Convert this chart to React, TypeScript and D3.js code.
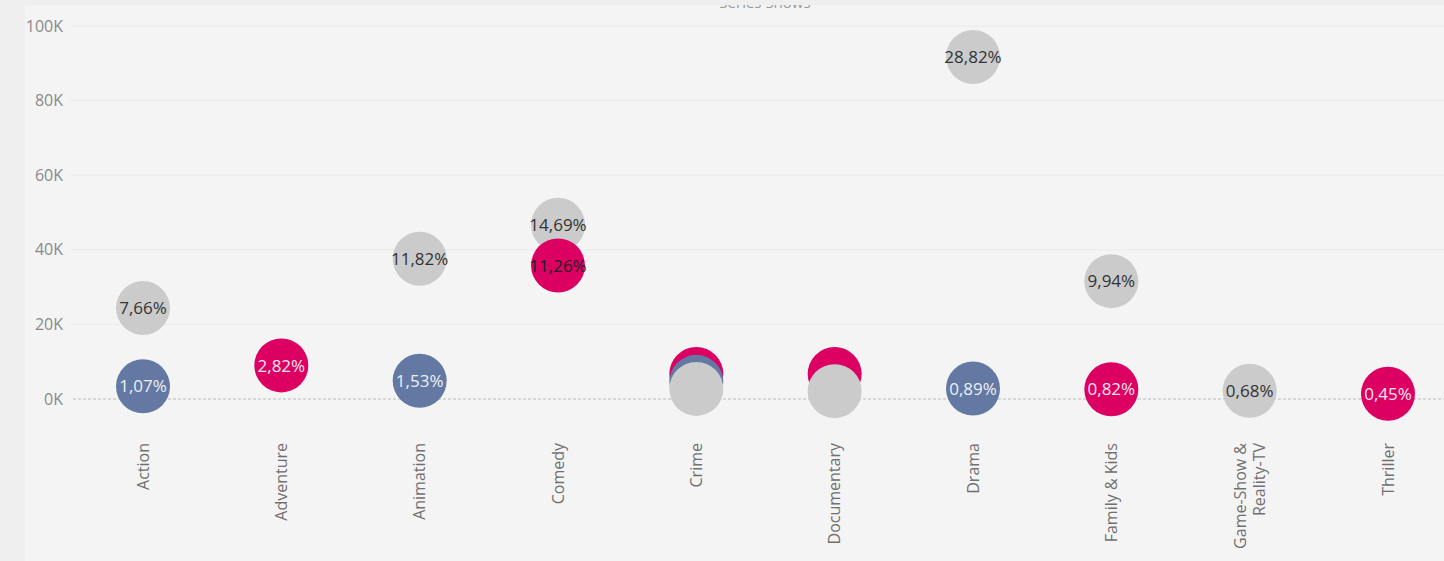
import React from 'react';
import * as d3 from 'd3';

const categories = [
  'Action',
  'Adventure',
  'Animation',
  'Comedy',
  'Crime',
  'Documentary',
  'Drama',
  'Family & Kids',
  'Game-Show & Reality-TV',
  'Thriller',
];

// null = no mark for that genre
const grayValues = [24400, null, 37600, 46700, 2700, 2100, 91700, 31600, 2200, null];
const grayLabels = ['7,66%', null, '11,82%', '14,69%', null, null, '28,82%', '9,94%', '0,68%', null];

const blueValues = [3400, null, 4900, null, 4600, null, 2800, null, null, null];
const blueLabels = ['1,07%', null, '1,53%', null, null, null, '0,89%', null, null, null];

const pinkValues = [null, 9000, null, 35800, 6700, 6700, null, 2600, null, 1400];
const pinkLabels = [null, '2,82%', null, '11,26%', null, null, null, '0,82%', null, '0,45%'];

const yTicks = [0, 20000, 40000, 60000, 80000, 100000];

const W = 1444;
const H = 561;
const font = '"Open Sans", "Noto Sans", sans-serif';

const series = [
  { key: 'gray', color: '#cbcbcb', text: '#333333', values: grayValues, labels: grayLabels },
  { key: 'blue', color: '#6378a2', text: '#eef0f6', values: blueValues, labels: blueLabels },
  { key: 'pink', color: '#db0062', text: '#fbe6ef', values: pinkValues, labels: pinkLabels },
];

export default function App() {
  const x = d3.scalePoint().domain(categories).range([143, 1388]);
  const y = d3.scaleLinear().domain([0, 100000]).range([399, 26]);
  const r = 27;

  // flatten, bigger values drawn first so small ones sit on top
  const points = [];
  series.forEach((s) => {
    s.values.forEach((v, i) => {
      if (v == null) return;
      points.push({
        cat: categories[i],
        value: v,
        label: s.labels[i],
        color: s.color,
        text: s.key === 'pink' && categories[i] === 'Comedy' ? '#222222' : s.text,
      });
    });
  });
  points.sort((a, b) => b.value - a.value);

  return (
    <div style={{ position: 'fixed', left: 0, top: 0, width: W, height: H }}>
      <svg width={W} height={H} style={{ display: 'block', fontFamily: font }}>
        <defs>
          <clipPath id="panel">
            <rect x={25} y={5} width={W - 25} height={H - 5} />
          </clipPath>
        </defs>
        <rect width={W} height={H} fill="#efefef" />
        <rect x={25} y={5} width={W - 25} height={H - 5} fill="#f4f4f4" />
        <g clipPath="url(#panel)">
          <text x={765} y={8} textAnchor="middle" fontSize={15} fill="#9a9a9a">
            Series Shows
          </text>
        </g>

        <g className="grid">
          {yTicks.map((t) =>
            t === 0 ? (
              <line
                key={t}
                x1={73}
                x2={W}
                y1={y(t)}
                y2={y(t)}
                stroke="#b9b9b9"
                strokeWidth={1}
                strokeDasharray="3,2"
              />
            ) : (
              <line key={t} x1={70} x2={W} y1={y(t)} y2={y(t)} stroke="#ebebeb" strokeWidth={1} />
            )
          )}
        </g>

        <g className="y-axis">
          {yTicks.map((t) => (
            <text
              key={t}
              x={63}
              y={y(t)}
              dy="0.35em"
              textAnchor="end"
              fontSize={16}
              fill="#8a8a8a"
            >
              {t / 1000 + 'K'}
            </text>
          ))}
        </g>

        <g className="dots">
          {points.map((p, i) => (
            <g key={i} transform={`translate(${x(p.cat)},${y(p.value)})`}>
              <circle r={r} fill={p.color} />
              {p.label && (
                <text textAnchor="middle" dy="0.36em" fontSize={17} fill={p.text}>
                  {p.label}
                </text>
              )}
            </g>
          ))}
        </g>

        <g className="x-axis">
          {categories.map((c) => {
            const lines = c === 'Game-Show & Reality-TV' ? ['Game-Show &', 'Reality-TV'] : [c];
            const cx = x(c);
            return (
              <text
                key={c}
                transform={`translate(${cx},443) rotate(-90)`}
                textAnchor="end"
                fontSize={16}
                fill="#707070"
              >
                {lines.map((l, j) => (
                  <tspan
                    key={j}
                    x={0}
                    y={(j - (lines.length - 1) / 2) * 19}
                    dy="0.35em"
                  >
                    {l}
                  </tspan>
                ))}
              </text>
            );
          })}
        </g>
      </svg>
    </div>
  );
}
